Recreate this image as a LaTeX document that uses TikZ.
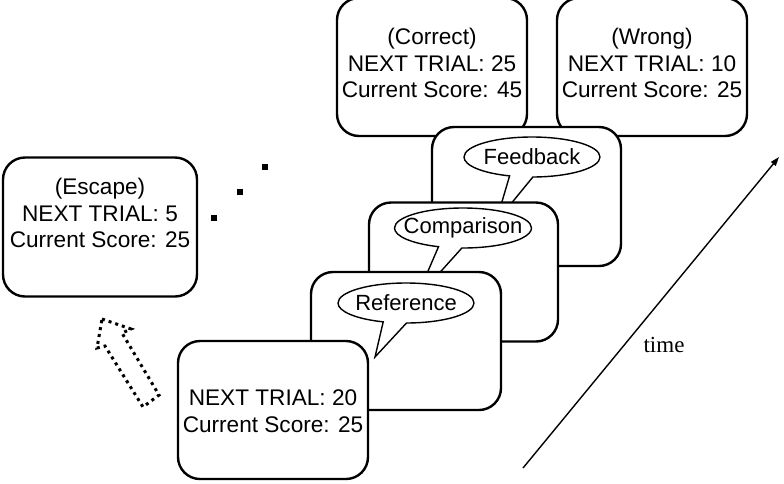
\documentclass[tikz,border=0pt]{standalone}
\usepackage{fontspec}
\setmainfont{Liberation Sans}
\newfontfamily\timesfont{Liberation Serif}
\usetikzlibrary{shapes.callouts,arrows.meta}
\begin{document}
\begin{tikzpicture}[x=1pt,y=-1pt,
  screen/.style={draw, fill=white, line width=2.4pt, rounded corners=22pt,
     minimum width=190pt, minimum height=138pt, inner sep=0pt},
  txt/.style={align=center, font=\fontsize{22.6}{26.5}\selectfont, inner sep=0pt},
  bubble/.style={ellipse callout, draw, fill=white, line width=1.4pt,
     minimum width=136pt, minimum height=40pt, inner sep=0pt, callout pointer arc=20},
  bubtxt/.style={font=\fontsize{22}{24}\selectfont, inner sep=0pt},
  dotsq/.style={fill=black, minimum size=6pt, inner sep=0pt}]
\useasboundingbox (0,0) rectangle (784,483);

% Escape screen
\node[screen, minimum width=194pt, minimum height=139pt] (esc) at (100,227) {};
\node[txt] (esct) at (100,213) {(Escape)\\NEXT TRIAL: 5\\Current Score: 25};

% ellipsis dots
\node[dotsq] (d1) at (265,167) {};
\node[dotsq] (d2) at (240,192) {};
\node[dotsq] (d3) at (214,218) {};

% dotted arrow
\draw[line width=3pt, dash pattern=on 3pt off 4pt, line join=miter]
  (102,319) -- (131,329) -- (122,333) -- (159,395) -- (143,407) -- (105,346) -- (97,348) -- cycle;

% Correct and Wrong screens
\node[screen] (cor) at (432,67) {};
\node[txt] (cort) at (432,63) {(Correct)\\NEXT TRIAL: 25\\Current Score: 45};
\node[screen] (wrg) at (652,67) {};
\node[txt] (wrgt) at (652,63) {(Wrong)\\NEXT TRIAL: 10\\Current Score: 25};

% Feedback screen
\node[screen, minimum width=189pt, minimum height=139pt] (fb) at (526.5,196.5) {};
\node[bubble, callout absolute pointer={(496,222)}] (fbb) at (532,157) {};
\node[bubtxt] at (fbb.center) {Feedback};

% Comparison screen
\node[screen, minimum width=189pt, minimum height=139pt] (cmp) at (463.5,272) {};
\node[bubble, minimum width=137pt, callout absolute pointer={(416,299)}] (cmpb) at (463,228) {};
\node[bubtxt] at (cmpb.center) {Comparison};

% Reference screen
\node[screen, minimum width=190pt, minimum height=138pt] (ref) at (406,341) {};
\node[bubble, callout absolute pointer={(375,357)}] (refb) at (406,303) {};
\node[bubtxt] at (refb.center) {Reference};

% Current screen
\node[screen, minimum width=190pt, minimum height=138pt] (cur) at (273,410) {};
\node[txt] (curt) at (273,411) {NEXT TRIAL: 20\\Current Score: 25};

% time arrow
\coordinate (t0) at (523,468);
\coordinate (t1) at (779,157);
\draw[line width=1.4pt, -{Triangle[length=9pt,width=6pt]}] (t0) -- (t1);
\node[font=\timesfont\fontsize{23}{26}\selectfont, inner sep=0pt] (time) at (664,345) {time};
\end{tikzpicture}
\end{document}
